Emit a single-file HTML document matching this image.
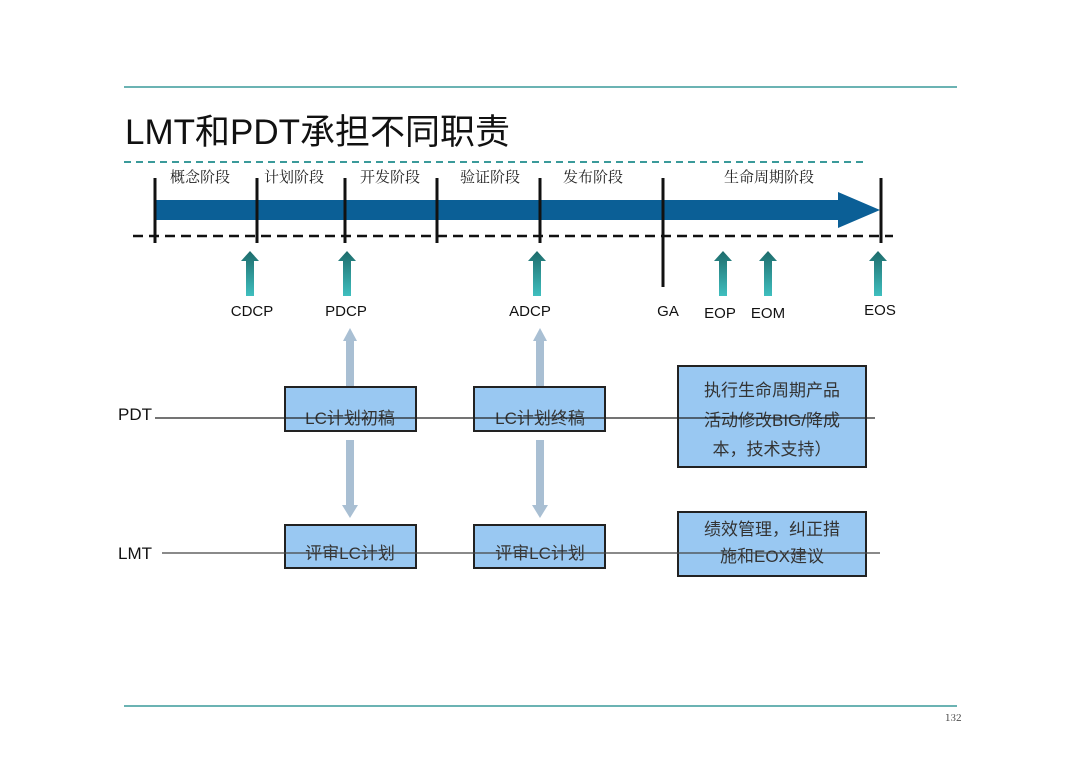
<!DOCTYPE html>
<html><head><meta charset="utf-8"><style>
html,body{margin:0;padding:0;background:#fff;}
svg{display:block;font-family:"Liberation Sans","Noto Sans CJK SC",sans-serif;}
.s{font-family:"Noto Serif CJK SC","Noto Sans CJK SC",serif;}
</style></head><body>
<svg width="1080" height="761" viewBox="0 0 1080 761">
<defs>
<linearGradient id="g" x1="0" y1="0" x2="0" y2="1">
<stop offset="0" stop-color="#1d6b6b"/><stop offset="1" stop-color="#3fbfbf"/></linearGradient>
</defs>
<line x1="124" y1="87" x2="957" y2="87" stroke="#3a9a9a" stroke-width="1.5"/>
<line x1="124" y1="706" x2="957" y2="706" stroke="#3a9a9a" stroke-width="1.5"/>
<text x="945" y="721" font-size="10" class="s" fill="#333">132</text>
<text x="125" y="144" font-size="35" fill="#111">LMT和PDT承担不同职责</text>
<line x1="124" y1="162" x2="865" y2="162" stroke="#3a9a9a" stroke-width="2" stroke-dasharray="7,5"/>
<g class="s" font-size="15" fill="#222">
<text x="170" y="182">概念阶段</text><text x="264" y="182">计划阶段</text><text x="360" y="182">开发阶段</text>
<text x="460" y="182">验证阶段</text><text x="563" y="182">发布阶段</text><text x="724" y="182">生命周期阶段</text>
</g>
<polygon points="155,200 838,200 838,192 880,210 838,228 838,220 155,220" fill="#0b5f96"/>
<line x1="133" y1="236" x2="893" y2="236" stroke="#111" stroke-width="2.5" stroke-dasharray="10,6"/>
<g stroke="#111" stroke-width="3">
<line x1="155" y1="178" x2="155" y2="243"/><line x1="257" y1="178" x2="257" y2="243"/>
<line x1="345" y1="178" x2="345" y2="243"/><line x1="437" y1="178" x2="437" y2="243"/>
<line x1="540" y1="178" x2="540" y2="243"/><line x1="663" y1="178" x2="663" y2="287"/>
<line x1="881" y1="178" x2="881" y2="243"/>
</g>
<g fill="url(#g)">
<polygon points="250,251 259,261 254,261 254,296 246,296 246,261 241,261"/>
<polygon points="347,251 356,261 351,261 351,296 343,296 343,261 338,261"/>
<polygon points="537,251 546,261 541,261 541,296 533,296 533,261 528,261"/>
<polygon points="723,251 732,261 727,261 727,296 719,296 719,261 714,261"/>
<polygon points="768,251 777,261 772,261 772,296 764,296 764,261 759,261"/>
<polygon points="878,251 887,261 882,261 882,296 874,296 874,261 869,261"/>
</g>
<g font-size="15" fill="#111" text-anchor="middle">
<text x="252" y="316">CDCP</text><text x="346" y="316">PDCP</text><text x="530" y="316">ADCP</text>
<text x="668" y="316">GA</text><text x="720" y="318">EOP</text><text x="768" y="318">EOM</text><text x="880" y="315">EOS</text>
</g>
<g fill="#a9bfd3">
<polygon points="350,328 357,341 354,341 354,387 346,387 346,341 343,341"/>
<polygon points="346,440 354,440 354,505 358,505 350,518 342,505 346,505"/>
<polygon points="540,328 547,341 544,341 544,387 536,387 536,341 533,341"/>
<polygon points="536,440 544,440 544,505 548,505 540,518 532,505 536,505"/>
</g>
<g fill="#99c8f2" stroke="#222" stroke-width="2">
<rect x="285" y="387" width="131" height="44"/><rect x="474" y="387" width="131" height="44"/>
<rect x="678" y="366" width="188" height="101"/>
<rect x="285" y="525" width="131" height="43"/><rect x="474" y="525" width="131" height="43"/>
<rect x="678" y="512" width="188" height="64"/>
</g>
<g font-size="17" fill="#333" text-anchor="middle">
<text x="350" y="424">LC计划初稿</text><text x="540" y="424">LC计划终稿</text>
<text x="772" y="396">执行生命周期产品</text><text x="772" y="426">活动修改BIG/降成</text><text x="772" y="455">本，技术支持）</text>
<text x="350" y="559">评审LC计划</text><text x="540" y="559">评审LC计划</text>
<text x="772" y="535">绩效管理，纠正措</text><text x="772" y="562">施和EOX建议</text>
</g>
<text x="118" y="420" font-size="17" fill="#111">PDT</text>
<text x="118" y="559" font-size="17" fill="#111">LMT</text>
<line x1="155" y1="418" x2="875" y2="418" stroke="#222" stroke-width="1.3"/>
<line x1="162" y1="553" x2="880" y2="553" stroke="#444" stroke-width="1.3"/>
</svg>
</body></html>
